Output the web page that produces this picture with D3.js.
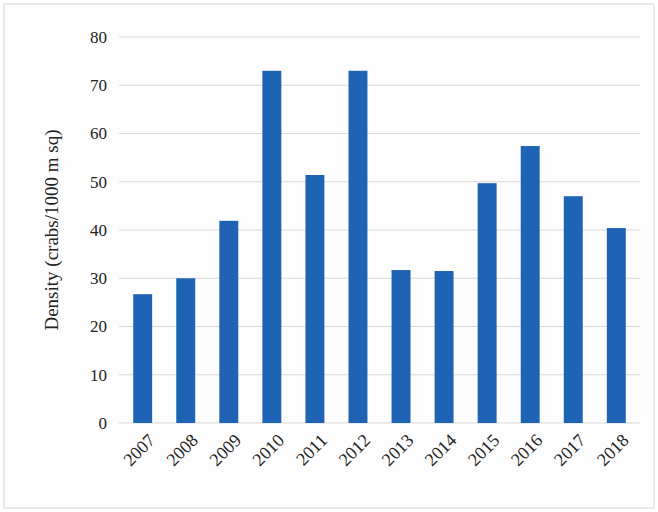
<!DOCTYPE html>
<html>
<head>
<meta charset="utf-8">
<script src="https://cdn.jsdelivr.net/npm/d3@7"></script>
<style>
  body { margin: 0; background: #fff; }
  text { font-family: "Liberation Serif", "DejaVu Serif", serif; }
</style>
</head>
<body>
<svg id="chart" width="658" height="512"></svg>
<script>
var years = ["2007","2008","2009","2010","2011","2012","2013","2014","2015","2016","2017","2018"];
var density = [26.7, 30, 41.9, 73, 51.4, 73, 31.7, 31.5, 49.7, 57.4, 47, 40.4];
var yTicks = [0, 10, 20, 30, 40, 50, 60, 70, 80];

var svg = d3.select("#chart");
var margin = { left: 119, right: 18, top: 37, bottom: 89 };
var width = 658 - margin.left - margin.right;
var height = 512 - margin.top - margin.bottom;

svg.append("rect")
  .attr("x", 4).attr("y", 4).attr("width", 650).attr("height", 504)
  .attr("fill", "#fdfdfd").attr("stroke", "#d6d6d6");

var g = svg.append("g").attr("transform", "translate(" + margin.left + "," + margin.top + ")");

var x = d3.scaleBand().domain(years).range([0, width]).paddingInner(0.56).paddingOuter(0.33);
var y = d3.scaleLinear().domain([0, 80]).range([height, 0]);

// gridlines
g.selectAll(".grid")
  .data(yTicks)
  .enter().append("line")
  .attr("x1", 0).attr("x2", width)
  .attr("y1", d => y(d)).attr("y2", d => y(d))
  .attr("stroke", "#d9d9d9").attr("stroke-width", 1);

// bars
g.selectAll(".bar")
  .data(density)
  .enter().append("rect")
  .attr("x", (d, i) => x(years[i]))
  .attr("y", d => y(d))
  .attr("width", x.bandwidth())
  .attr("height", d => height - y(d))
  .attr("fill", "#1f63b5");

// y axis labels
g.selectAll(".ylab")
  .data(yTicks)
  .enter().append("text")
  .attr("x", -12).attr("y", d => y(d))
  .attr("dy", "0.35em")
  .attr("text-anchor", "end")
  .attr("font-size", 17)
  .attr("fill", "#222")
  .text(d => d);

// x axis labels
g.selectAll(".xlab")
  .data(years)
  .enter().append("text")
  .attr("transform", d => "translate(" + (x(d) + x.bandwidth() / 2 + 9) + "," + (height + 14) + ") rotate(-45)")
  .attr("text-anchor", "end")
  .attr("dy", "0.35em")
  .attr("font-size", 18)
  .attr("fill", "#222")
  .text(d => d);

// y axis title
svg.append("text")
  .attr("transform", "translate(58," + (margin.top + height / 2) + ") rotate(-90)")
  .attr("text-anchor", "middle")
  .attr("font-size", 19)
  .attr("fill", "#222")
  .text("Density (crabs/1000 m sq)");
</script>
</body>
</html>
